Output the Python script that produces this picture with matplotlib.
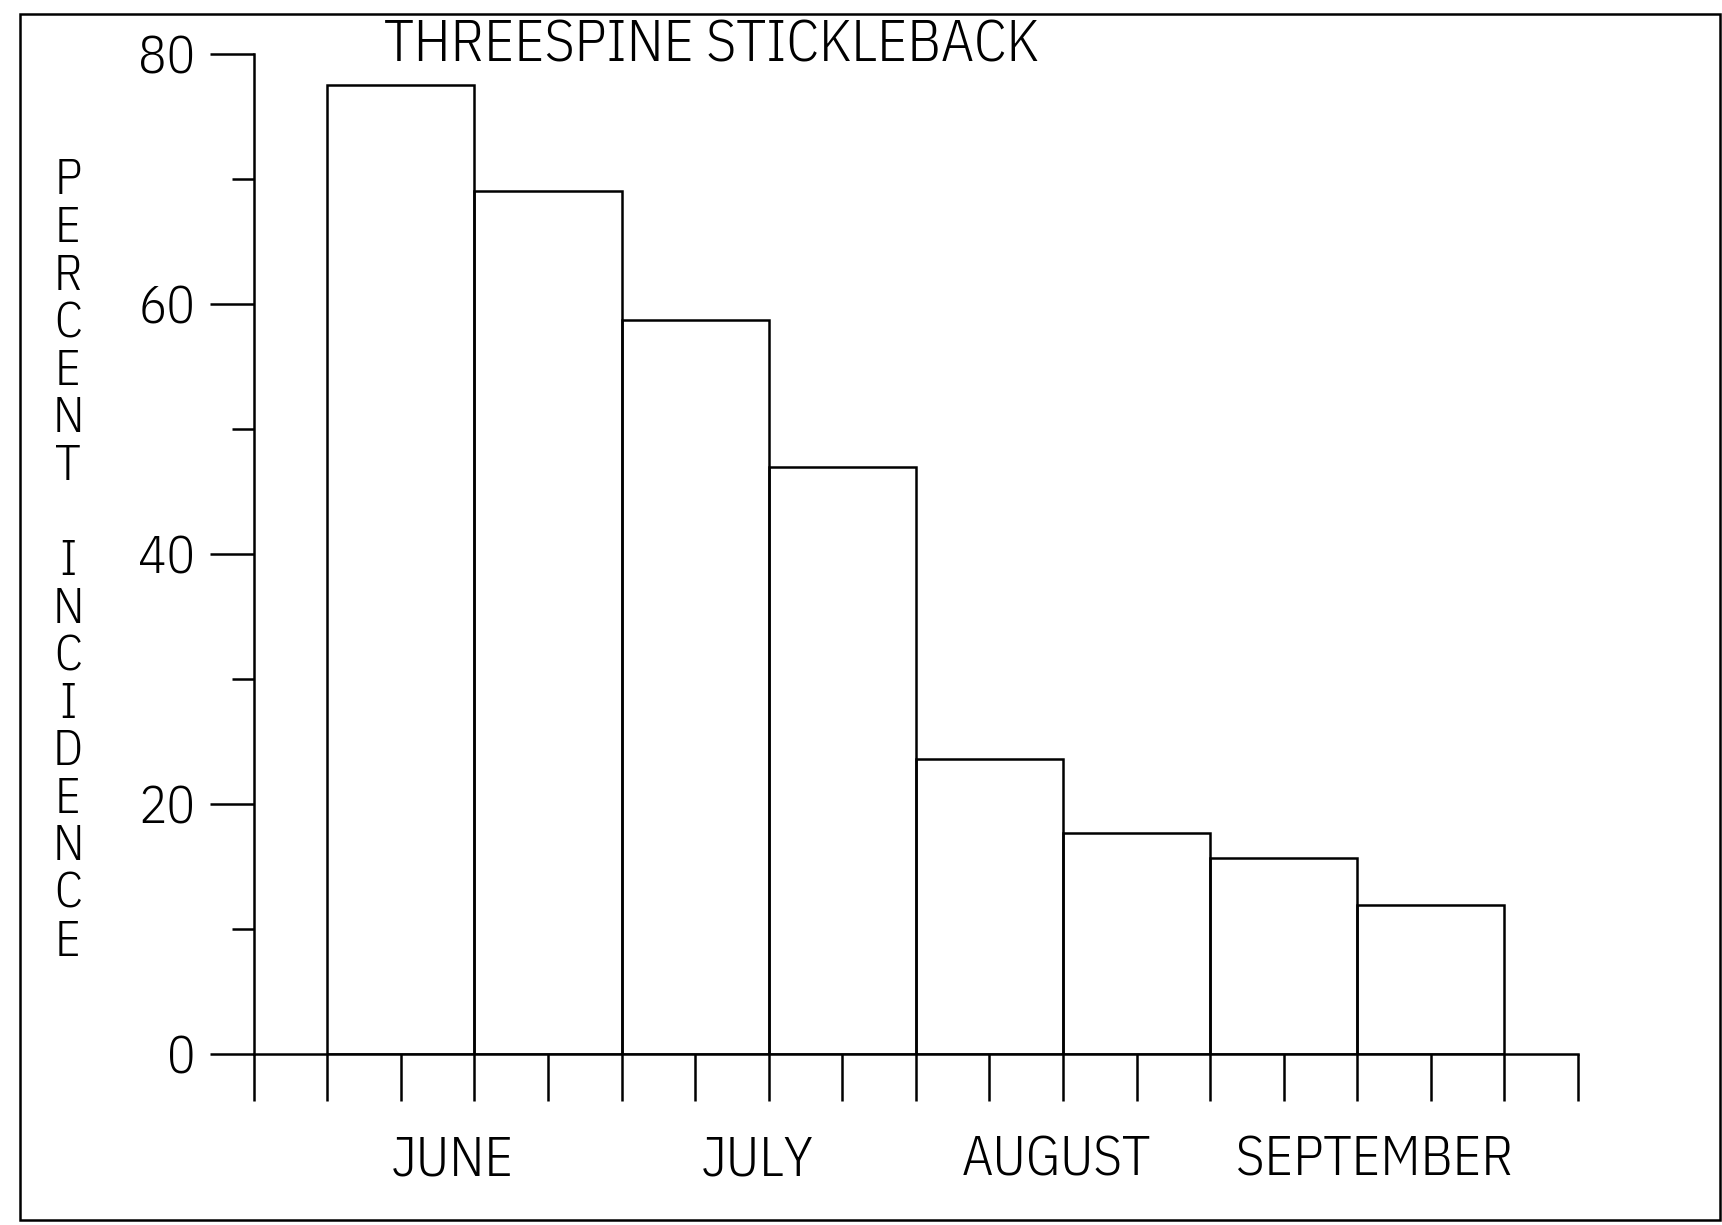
import matplotlib
matplotlib.use("Agg")
import matplotlib.pyplot as plt
from matplotlib.patches import Rectangle
from matplotlib.ticker import MultipleLocator
import matplotlib.transforms as mtransforms

# ---- data ----
title = "THREESPINE STICKLEBACK"
ylabel = "PERCENT INCIDENCE"
bar_left = [1, 3, 5, 7, 9, 11, 13, 15]          # bar left edges (x tick units)
bar_width = 2
incidence = [77.5, 69.0, 58.7, 47.0, 23.6, 17.7, 15.7, 11.9]
months = ["JUNE", "JULY", "AUGUST", "SEPTEMBER"]
month_pos = [2.70, 6.85, 10.91, 15.24]
y_major = [0, 20, 40, 60, 80]

FONT = ["IBM Plex Sans Condensed", "Liberation Sans Narrow", "DejaVu Sans"]
plt.rcParams['font.family'] = FONT
plt.rcParams['font.weight'] = 300
LW = 1.8

W, H = 1722, 1225
fig = plt.figure(figsize=(W / 100, H / 100), dpi=100)
fig.patch.set_facecolor("white")

# axes placement (pixels)
x0, x1 = 253.7, 1578.0
y_top, y_bot = 53.8, 1054.3
ax = fig.add_axes([x0 / W, 1 - y_bot / H, (x1 - x0) / W, (y_bot - y_top) / H])
ax.set_xlim(0, 18)
ax.set_ylim(0, 80)
ax.patch.set_alpha(0)

ax.bar(bar_left, incidence, width=bar_width, align='edge', fill=False,
       edgecolor='black', linewidth=LW, zorder=3)

for s in ['top', 'right']:
    ax.spines[s].set_visible(False)
for s in ['left', 'bottom']:
    ax.spines[s].set_linewidth(LW)

ax.set_xticks(range(0, 19))
ax.set_xticklabels([])
ax.tick_params(axis='x', direction='out', length=34, width=LW)

ax.set_yticks(y_major)
ax.set_yticklabels([str(v) for v in y_major])
ax.yaxis.set_minor_locator(MultipleLocator(10))
ax.tick_params(axis='y', which='major', direction='out', length=32, width=LW,
               labelsize=38, pad=10)
ax.tick_params(axis='y', which='minor', direction='out', length=16, width=LW)

# month labels
trans = mtransforms.blended_transform_factory(ax.transData, fig.transFigure)
for m, p in zip(months, month_pos):
    ax.text(p, 1 - 1160 / H, m, transform=trans, ha='center', va='center',
            fontsize=40)

# title
fig.text(711 / W, 1 - 45 / H, title, ha='center', va='center', fontsize=42)

# vertical stacked y label
n = len(ylabel)
ytop_c, ybot_c = 181.0, 942.0
for i, ch in enumerate(ylabel):
    yy = ytop_c + (ybot_c - ytop_c) * i / (n - 1)
    fig.text(68 / W, 1 - yy / H, ch, ha='center', va='center', fontsize=36)

# border frame
fig.patches.append(Rectangle((19.8 / W, 1 - 1220 / H), (1720 - 19.8) / W,
                             (1220 - 14.3) / H, transform=fig.transFigure,
                             fill=False, edgecolor='black', linewidth=LW))

fig.savefig("out.png", dpi=100)
